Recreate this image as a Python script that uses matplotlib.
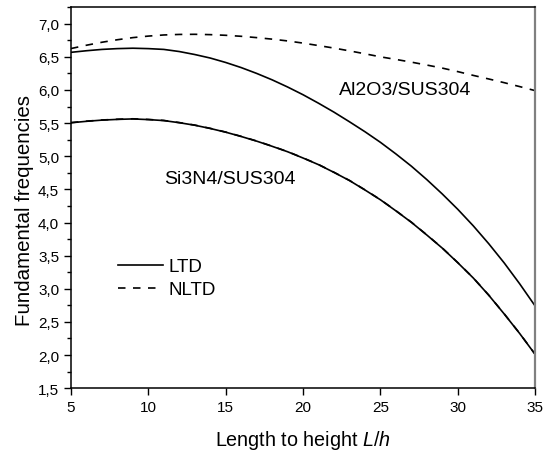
import numpy as np
import matplotlib.pyplot as plt
from matplotlib.ticker import FuncFormatter, MultipleLocator

plt.rcParams['font.family'] = ['Liberation Sans', 'DejaVu Sans']
plt.rcParams['mathtext.fontset'] = 'custom'
plt.rcParams['mathtext.rm'] = 'Liberation Sans'
plt.rcParams['mathtext.it'] = 'Liberation Sans:italic'

# length to height ratio
L_h = list(range(5, 36))

# Al2O3/SUS304
al_ltd = [6.568, 6.592, 6.612, 6.624, 6.630, 6.624, 6.612, 6.580, 6.535, 6.482,
          6.415, 6.338, 6.250, 6.153, 6.045, 5.928, 5.800, 5.665, 5.520, 5.370,
          5.210, 5.035, 4.850, 4.647, 4.430, 4.199, 3.950, 3.680, 3.390, 3.075, 2.740]
al_nltd = [6.625, 6.675, 6.720, 6.758, 6.790, 6.813, 6.830, 6.838, 6.840, 6.835,
           6.825, 6.810, 6.790, 6.767, 6.740, 6.707, 6.670, 6.632, 6.590, 6.546,
           6.500, 6.461, 6.420, 6.376, 6.330, 6.277, 6.220, 6.166, 6.110, 6.051, 5.990]

# Si3N4/SUS304
si_ltd = [5.505, 5.527, 5.545, 5.556, 5.563, 5.553, 5.538, 5.506, 5.468, 5.419,
          5.363, 5.298, 5.228, 5.150, 5.068, 4.973, 4.873, 4.756, 4.633, 4.491,
          4.343, 4.176, 4.003, 3.811, 3.613, 3.393, 3.163, 2.903, 2.620, 2.325, 2.010]
si_nltd = [5.507, 5.529, 5.547, 5.558, 5.565, 5.555, 5.540, 5.508, 5.470, 5.421,
           5.365, 5.300, 5.230, 5.152, 5.070, 4.975, 4.875, 4.758, 4.635, 4.493,
           4.345, 4.178, 4.005, 3.813, 3.615, 3.395, 3.165, 2.905, 2.622, 2.327, 2.012]

fig = plt.figure(figsize=(5.5, 4.52), dpi=100)
ax = fig.add_axes([0.129, 0.139, 0.844, 0.843])

dash = (0, (4.5, 4.5))
ax.plot(L_h, al_ltd, color='black', lw=1.2, label='LTD')
ax.plot(L_h, al_nltd, color='black', lw=1.2, ls=dash, label='NLTD')
ax.plot(L_h, si_ltd, color='black', lw=1.2)
ax.plot(L_h, si_nltd, color='black', lw=1.2, ls=dash)

ax.text(26.6, 6.0, 'Al2O3/SUS304', fontsize=14, ha='center', va='center')
ax.text(15.3, 4.67, 'Si3N4/SUS304', fontsize=14, ha='center', va='center')

ax.set_xlim(5, 35)
ax.set_ylim(1.5, 7.25)
ax.xaxis.set_major_locator(MultipleLocator(5))
ax.yaxis.set_major_locator(MultipleLocator(0.5))
ax.yaxis.set_minor_locator(MultipleLocator(0.25))
ax.yaxis.set_major_formatter(FuncFormatter(lambda v, p: f'{v:.1f}'.replace('.', ',')))
ax.tick_params(axis='both', which='major', direction='out', length=5, width=1, labelsize=11)
ax.tick_params(axis='y', which='minor', direction='out', length=3, width=1)

ax.spines['right'].set_color('#808080')
ax.spines['right'].set_linewidth(1.6)
for s in ['left', 'top', 'bottom']:
    ax.spines[s].set_linewidth(1.1)

ax.set_xlabel('Length to height $\\it{L/h}$', fontsize=14.2, labelpad=10)
ax.set_ylabel('Fundamental frequencies', fontsize=14.8, labelpad=4)
ax.yaxis.set_label_coords(-0.08, 0.47)

ax.legend(loc='upper left', bbox_to_anchor=(0.065, 0.385), frameon=False, fontsize=13.5,
          handlelength=2.4, handletextpad=0.3, labelspacing=0.3)

fig.savefig('out.png', dpi=100)
